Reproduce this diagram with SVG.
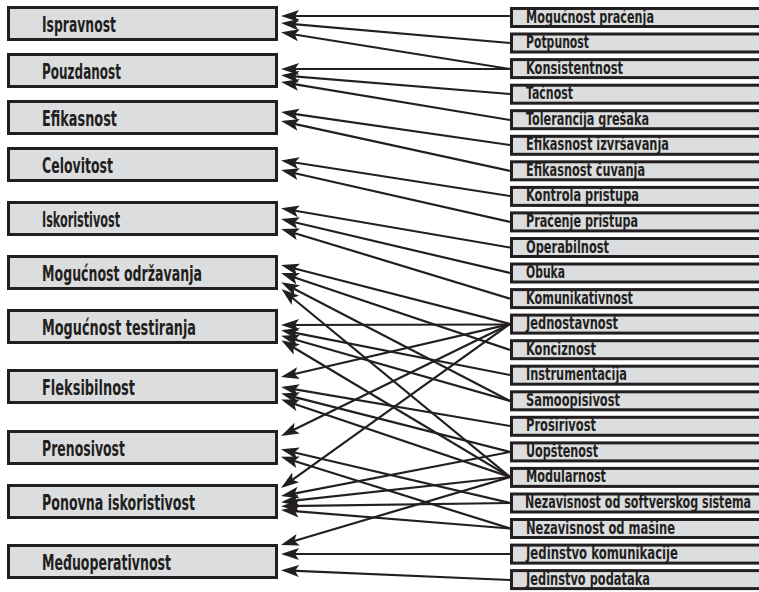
<svg xmlns="http://www.w3.org/2000/svg" width="759" height="592" viewBox="0 0 759 592">
  <style>
    .box { fill: #dcdddf; stroke: #231f20; stroke-width: 3; }
    .lbl { font-family: "DejaVu Sans Condensed", "DejaVu Sans", sans-serif; font-weight: bold; fill: #231f20; }
    .big { font-size: 22px; }
    .small { font-size: 17px; }
    .wire { stroke: #231f20; stroke-width: 2.2; fill: none; marker-end: url(#head); }
  </style>
  <defs>
    <marker id="head" markerUnits="userSpaceOnUse" markerWidth="18" markerHeight="12" refX="14" refY="6" orient="auto" overflow="visible">
      <path d="M0,0 L18,6 L0,12 L4,6 Z" fill="#231f20"/>
    </marker>
  </defs>

  <!-- quality factors (left column) -->
  <g id="f-ispravnost"><rect class="box" x="8.5" y="7.5" width="268" height="32"/><text class="lbl big" x="42" y="32" textLength="74" lengthAdjust="spacingAndGlyphs">Ispravnost</text></g>
  <g id="f-pouzdanost"><rect class="box" x="8.5" y="54.5" width="268" height="32"/><text class="lbl big" x="42" y="79" textLength="79" lengthAdjust="spacingAndGlyphs">Pouzdanost</text></g>
  <g id="f-efikasnost"><rect class="box" x="8.5" y="101.5" width="268" height="32"/><text class="lbl big" x="42" y="126" textLength="75" lengthAdjust="spacingAndGlyphs">Efikasnost</text></g>
  <g id="f-celovitost"><rect class="box" x="8.5" y="148.5" width="268" height="32"/><text class="lbl big" x="42" y="173" textLength="71" lengthAdjust="spacingAndGlyphs">Celovitost</text></g>
  <g id="f-iskoristivost"><rect class="box" x="8.5" y="202.5" width="268" height="32"/><text class="lbl big" x="42" y="227" textLength="78" lengthAdjust="spacingAndGlyphs">Iskoristivost</text></g>
  <g id="f-odrzavanje"><rect class="box" x="8.5" y="256.5" width="268" height="32"/><text class="lbl big" x="42" y="281" textLength="160" lengthAdjust="spacingAndGlyphs">Mogućnost održavanja</text></g>
  <g id="f-testiranje"><rect class="box" x="8.5" y="310.5" width="268" height="32"/><text class="lbl big" x="42" y="335" textLength="154" lengthAdjust="spacingAndGlyphs">Mogućnost testiranja</text></g>
  <g id="f-fleksibilnost"><rect class="box" x="8.5" y="370.5" width="268" height="32"/><text class="lbl big" x="42" y="395" textLength="93" lengthAdjust="spacingAndGlyphs">Fleksibilnost</text></g>
  <g id="f-prenosivost"><rect class="box" x="8.5" y="431.5" width="268" height="32"/><text class="lbl big" x="42" y="456" textLength="83" lengthAdjust="spacingAndGlyphs">Prenosivost</text></g>
  <g id="f-ponovna"><rect class="box" x="8.5" y="485.5" width="268" height="32"/><text class="lbl big" x="42" y="510" textLength="153" lengthAdjust="spacingAndGlyphs">Ponovna iskoristivost</text></g>
  <g id="f-medjuoperativnost"><rect class="box" x="8.5" y="545.5" width="268" height="32"/><text class="lbl big" x="42" y="570" textLength="129" lengthAdjust="spacingAndGlyphs">Međuoperativnost</text></g>

  <!-- criteria (right column) -->
  <g id="c-pracenje"><rect class="box" x="511.5" y="8.5" width="300" height="18"/><text class="lbl small" x="526" y="22.5" textLength="128" lengthAdjust="spacingAndGlyphs">Mogućnost praćenja</text></g>
  <g id="c-potpunost"><rect class="box" x="511.5" y="34" width="300" height="18"/><text class="lbl small" x="526" y="48" textLength="63" lengthAdjust="spacingAndGlyphs">Potpunost</text></g>
  <g id="c-konsistentnost"><rect class="box" x="511.5" y="59.6" width="300" height="18"/><text class="lbl small" x="526" y="73.6" textLength="97" lengthAdjust="spacingAndGlyphs">Konsistentnost</text></g>
  <g id="c-tacnost"><rect class="box" x="511.5" y="85.2" width="300" height="18"/><text class="lbl small" x="526" y="99.2" textLength="47" lengthAdjust="spacingAndGlyphs">Tačnost</text></g>
  <g id="c-tolerancija"><rect class="box" x="511.5" y="110.7" width="300" height="18"/><text class="lbl small" x="526" y="124.7" textLength="123" lengthAdjust="spacingAndGlyphs">Tolerancija grešaka</text></g>
  <g id="c-izvrsavanje"><rect class="box" x="511.5" y="136.3" width="300" height="18"/><text class="lbl small" x="526" y="150.3" textLength="143" lengthAdjust="spacingAndGlyphs">Efikasnost izvršavanja</text></g>
  <g id="c-cuvanje"><rect class="box" x="511.5" y="161.8" width="300" height="18"/><text class="lbl small" x="526" y="175.8" textLength="119" lengthAdjust="spacingAndGlyphs">Efikasnost čuvanja</text></g>
  <g id="c-kontrola"><rect class="box" x="511.5" y="187.4" width="300" height="18"/><text class="lbl small" x="526" y="201.4" textLength="113" lengthAdjust="spacingAndGlyphs">Kontrola pristupa</text></g>
  <g id="c-pracenje-pristupa"><rect class="box" x="511.5" y="212.9" width="300" height="18"/><text class="lbl small" x="526" y="226.9" textLength="112" lengthAdjust="spacingAndGlyphs">Praćenje pristupa</text></g>
  <g id="c-operabilnost"><rect class="box" x="511.5" y="238.5" width="300" height="18"/><text class="lbl small" x="526" y="252.5" textLength="83" lengthAdjust="spacingAndGlyphs">Operabilnost</text></g>
  <g id="c-obuka"><rect class="box" x="511.5" y="264" width="300" height="18"/><text class="lbl small" x="526" y="278" textLength="39" lengthAdjust="spacingAndGlyphs">Obuka</text></g>
  <g id="c-komunikativnost"><rect class="box" x="511.5" y="289.6" width="300" height="18"/><text class="lbl small" x="526" y="303.6" textLength="107" lengthAdjust="spacingAndGlyphs">Komunikativnost</text></g>
  <g id="c-jednostavnost"><rect class="box" x="511.5" y="315.1" width="300" height="18"/><text class="lbl small" x="526" y="329.1" textLength="92" lengthAdjust="spacingAndGlyphs">Jednostavnost</text></g>
  <g id="c-konciznost"><rect class="box" x="511.5" y="340.7" width="300" height="18"/><text class="lbl small" x="526" y="354.7" textLength="70" lengthAdjust="spacingAndGlyphs">Konciznost</text></g>
  <g id="c-instrumentacija"><rect class="box" x="511.5" y="366.2" width="300" height="18"/><text class="lbl small" x="526" y="380.2" textLength="101" lengthAdjust="spacingAndGlyphs">Instrumentacija</text></g>
  <g id="c-samoopisivost"><rect class="box" x="511.5" y="391.8" width="300" height="18"/><text class="lbl small" x="526" y="405.8" textLength="94" lengthAdjust="spacingAndGlyphs">Samoopisivost</text></g>
  <g id="c-prosirivost"><rect class="box" x="511.5" y="417.3" width="300" height="18"/><text class="lbl small" x="526" y="431.3" textLength="70" lengthAdjust="spacingAndGlyphs">Proširivost</text></g>
  <g id="c-uopstenost"><rect class="box" x="511.5" y="442.9" width="300" height="18"/><text class="lbl small" x="526" y="456.9" textLength="72" lengthAdjust="spacingAndGlyphs">Uopštenost</text></g>
  <g id="c-modularnost"><rect class="box" x="511.5" y="468.4" width="300" height="18"/><text class="lbl small" x="526" y="482.4" textLength="80" lengthAdjust="spacingAndGlyphs">Modularnost</text></g>
  <g id="c-nez-softver"><rect class="box" x="511.5" y="494" width="300" height="18"/><text class="lbl small" x="525" y="508" textLength="226" lengthAdjust="spacingAndGlyphs">Nezavisnost od softverskog sistema</text></g>
  <g id="c-nez-masina"><rect class="box" x="511.5" y="519.5" width="300" height="18"/><text class="lbl small" x="526" y="533.5" textLength="149" lengthAdjust="spacingAndGlyphs">Nezavisnost od mašine</text></g>
  <g id="c-jed-komunikacije"><rect class="box" x="511.5" y="545.1" width="300" height="18"/><text class="lbl small" x="526" y="559.1" textLength="152" lengthAdjust="spacingAndGlyphs">Jedinstvo komunikacije</text></g>
  <g id="c-jed-podataka"><rect class="box" x="511.5" y="570.6" width="300" height="18"/><text class="lbl small" x="526" y="584.6" textLength="124" lengthAdjust="spacingAndGlyphs">Jedinstvo podataka</text></g>

  <!-- criterion -> factor connectors -->
  <g id="connectors">
    <line class="wire" x1="510" y1="16" x2="285" y2="16"/>
    <line class="wire" x1="510" y1="43" x2="285" y2="23.4"/>
    <line class="wire" x1="510" y1="69" x2="285" y2="33"/>
    <line class="wire" x1="510" y1="69" x2="285" y2="69"/>
    <line class="wire" x1="510" y1="94" x2="285" y2="75.6"/>
    <line class="wire" x1="510" y1="120" x2="285" y2="82.6"/>
    <line class="wire" x1="510" y1="145" x2="285" y2="112.6"/>
    <line class="wire" x1="510" y1="171" x2="285" y2="121.9"/>
    <line class="wire" x1="510" y1="196" x2="285" y2="161"/>
    <line class="wire" x1="510" y1="222" x2="285" y2="171"/>
    <line class="wire" x1="510" y1="247.5" x2="285" y2="209"/>
    <line class="wire" x1="510" y1="273" x2="285" y2="220"/>
    <line class="wire" x1="510" y1="298.6" x2="285" y2="230.2"/>
    <line class="wire" x1="510" y1="324" x2="284.9" y2="266"/>
    <line class="wire" x1="510" y1="350" x2="284.9" y2="274.3"/>
    <line class="wire" x1="510" y1="401" x2="284.8" y2="284"/>
    <line class="wire" x1="510" y1="477" x2="284.6" y2="291.5"/>
    <line class="wire" x1="510" y1="324.5" x2="285" y2="325"/>
    <line class="wire" x1="510" y1="375" x2="285" y2="330.9"/>
    <line class="wire" x1="510" y1="401" x2="285" y2="336.8"/>
    <line class="wire" x1="510" y1="477" x2="284.8" y2="342.3"/>
    <line class="wire" x1="510" y1="324" x2="284.8" y2="376.2"/>
    <line class="wire" x1="510" y1="426" x2="285" y2="387.7"/>
    <line class="wire" x1="510" y1="452" x2="285" y2="394.6"/>
    <line class="wire" x1="510" y1="477" x2="284.9" y2="400.8"/>
    <line class="wire" x1="510" y1="324" x2="284.6" y2="434.2"/>
    <line class="wire" x1="510" y1="503" x2="284.8" y2="450.2"/>
    <line class="wire" x1="510" y1="528.5" x2="284.7" y2="458"/>
    <line class="wire" x1="510" y1="324" x2="284.3" y2="485.6"/>
    <line class="wire" x1="510" y1="452" x2="284.9" y2="495.3"/>
    <line class="wire" x1="510" y1="477" x2="285" y2="501.7"/>
    <line class="wire" x1="510" y1="503" x2="285" y2="506.1"/>
    <line class="wire" x1="510" y1="528.5" x2="285" y2="510.3"/>
    <line class="wire" x1="510" y1="477" x2="284.8" y2="543.8"/>
    <line class="wire" x1="510" y1="554" x2="285" y2="554"/>
    <line class="wire" x1="510" y1="580" x2="285" y2="570.3"/>
  </g>
</svg>
